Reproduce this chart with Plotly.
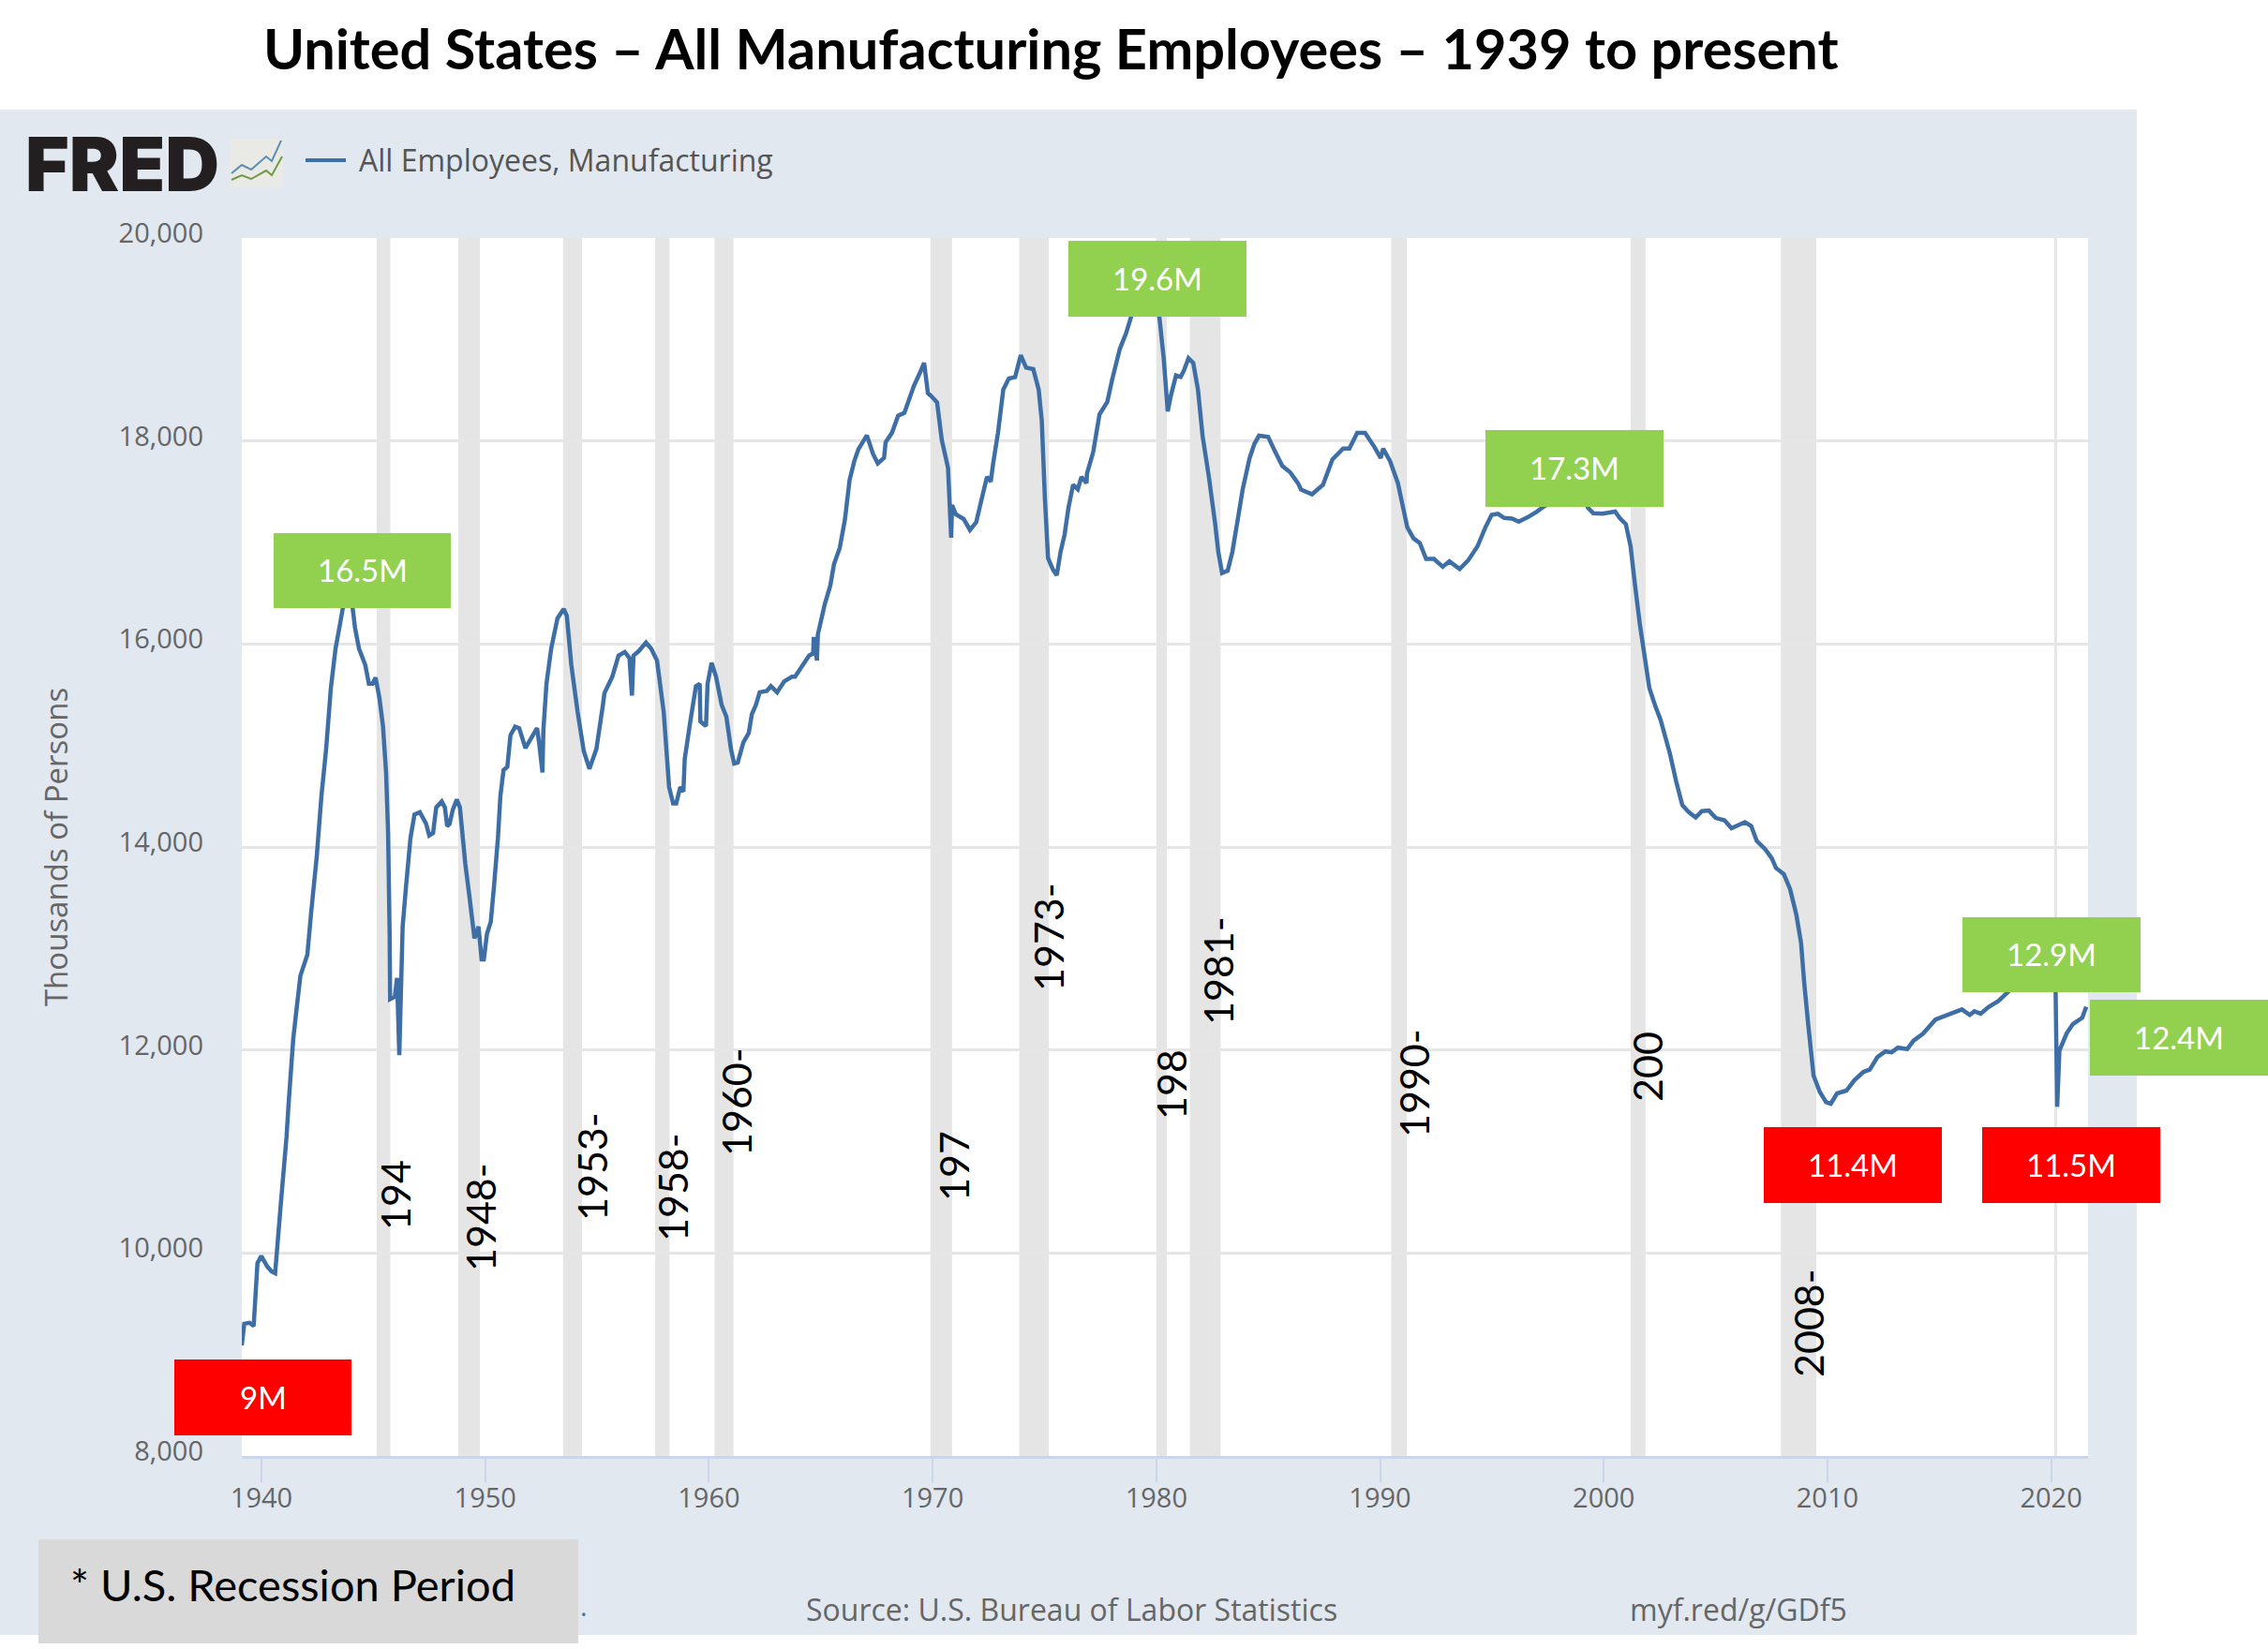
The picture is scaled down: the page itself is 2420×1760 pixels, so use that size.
import plotly.graph_objects as go

TITLE = "United States \u2013 All Manufacturing Employees \u2013 1939 to present"
SERIES = "All Employees, Manufacturing"

years = [
 1939.12,1939.23,1939.47,1939.65,1939.82,1939.99,1940.27,1940.45,1940.61,1940.87,1941.12,1941.21,1941.42,1941.56,1941.74,
 1942.05,1942.22,1942.47,1942.68,1942.89,1943.10,1943.31,1943.52,1943.63,1943.75,1943.90,1944.00,1944.08,1944.18,1944.36,
 1944.64,1944.80,1944.96,1945.10,1945.27,1945.43,1945.57,1945.66,1945.73,1945.75,1945.96,1946.06,1946.16,1946.31,1946.45,
 1946.66,1946.84,1947.08,1947.36,1947.50,1947.67,1947.81,1948.06,1948.20,1948.30,1948.41,1948.55,1948.73,1948.87,1949.11,
 1949.32,1949.52,1949.70,1949.84,1949.94,1950.08,1950.25,1950.40,1950.57,1950.68,1950.82,1950.99,1951.13,1951.34,1951.52,
 1951.80,1952.11,1952.32,1952.42,1952.56,1952.60,1952.74,1952.95,1953.23,1953.51,1953.65,1953.85,1954.13,1954.41,1954.66,
 1954.97,1955.25,1955.33,1955.68,1955.96,1956.24,1956.45,1956.56,1956.63,1956.87,1957.19,1957.42,1957.68,1957.98,1958.22,
 1958.40,1958.54,1958.72,1958.86,1958.92,1959.17,1959.42,1959.59,1959.62,1959.87,1959.94,1960.12,1960.32,1960.57,1960.78,
 1960.99,1961.13,1961.29,1961.54,1961.78,1961.92,1962.10,1962.27,1962.59,1962.77,1963.05,1963.36,1963.71,1963.85,1964.13,
 1964.48,1964.66,1964.69,1964.83,1964.87,1965.18,1965.43,1965.59,1965.85,1966.08,1966.29,1966.50,1966.68,1967.06,1967.34,
 1967.55,1967.83,1967.90,1968.18,1968.46,1968.74,1969.16,1969.45,1969.62,1969.79,1969.95,1970.20,1970.41,1970.69,1970.83,
 1970.87,1971.04,1971.39,1971.67,1971.95,1972.23,1972.43,1972.60,1972.71,1972.92,1973.16,1973.41,1973.69,1973.94,1974.18,
 1974.50,1974.74,1974.88,1975.02,1975.16,1975.37,1975.55,1975.72,1975.90,1976.07,1976.28,1976.49,1976.65,1976.88,1976.90,
 1977.18,1977.46,1977.81,1978.02,1978.37,1978.65,1978.86,1979.20,1979.50,1979.80,1980.14,1980.33,1980.51,1980.65,1980.88,
 1981.09,1981.23,1981.44,1981.65,1981.86,1982.07,1982.35,1982.63,1982.77,1982.94,1983.19,1983.40,1983.61,1983.86,1984.17,
 1984.38,1984.59,1985.00,1985.28,1985.63,1985.98,1986.33,1986.47,1986.96,1987.45,1987.87,1988.35,1988.63,1988.98,1989.33,
 1989.75,1990.03,1990.14,1990.45,1990.80,1991.01,1991.22,1991.50,1991.78,1992.06,1992.41,1992.80,1993.10,1993.56,1993.94,
 1994.36,1994.71,1994.99,1995.27,1995.55,1995.90,1996.20,1996.60,1997.01,1997.29,1997.70,1998.20,1998.60,1999.00,1999.32,
 1999.53,1999.95,2000.51,2000.71,2000.99,2001.20,2001.41,2001.62,2001.83,2002.04,2002.32,2002.54,2002.96,2003.24,2003.51,
 2003.79,2004.11,2004.39,2004.70,2005.01,2005.40,2005.71,2006.31,2006.59,2006.84,2007.22,2007.52,2007.70,2008.05,2008.33,
 2008.61,2008.82,2008.96,2009.14,2009.38,2009.66,2009.94,2010.15,2010.43,2010.85,2011.20,2011.61,2011.89,2012.24,2012.59,
 2012.87,2013.15,2013.57,2013.85,2014.27,2014.83,2015.46,2016.01,2016.36,2016.57,2016.85,2017.20,2017.64,2018.10,2018.60,
 2019.20,2019.90,2020.10,2020.20,2020.27,2020.37,2020.69,2020.97,2021.18,2021.39,2021.57,
]
employees = [
 9090,9303,9312,9280,9901,9970,9864,9818,9800,10499,11144,11466,12110,12387,12732,
 12939,13353,13906,14504,14964,15563,15954,16207,16345,16450,16500,16430,16345,16161,15954,
 15793,15609,15609,15669,15471,15194,14734,14136,13123,12502,12525,12709,11950,13215,13583,
 14090,14320,14343,14228,14113,14136,14389,14449,14389,14205,14228,14366,14467,14389,13837,
 13468,13100,13215,12893,12893,13146,13261,13629,14090,14504,14757,14790,15102,15185,15171,
 14974,15093,15171,15010,14734,15148,15609,15954,16253,16345,16276,15793,15333,14941,14771,
 14964,15379,15515,15677,15885,15921,15861,15492,15885,15931,16014,15954,15838,15330,14591,
 14429,14429,14591,14545,14868,15238,15584,15607,15238,15191,15607,15815,15677,15399,15284,
 14960,14822,14831,15030,15122,15307,15399,15524,15538,15584,15524,15630,15677,15677,15769,
 15885,15908,16069,15838,16092,16393,16578,16785,16947,17224,17617,17802,17917,18056,17871,
 17779,17834,17987,18079,18250,18278,18541,18680,18770,18472,18440,18380,18010,17733,17046,
 17369,17277,17231,17123,17200,17462,17646,17600,17785,18077,18508,18615,18631,18846,18723,
 18708,18508,18200,17431,16846,16738,16677,16908,17077,17338,17569,17523,17646,17585,17677,
 17892,18262,18385,18600,18908,19062,19215,19450,19550,19450,19215,18815,18292,18446,18646,
 18631,18692,18815,18769,18508,18046,17646,17185,16908,16700,16723,16908,17185,17523,17831,
 17969,18052,18040,17908,17754,17692,17585,17522,17475,17568,17817,17925,17925,18081,18081,
 17941,17832,17925,17801,17584,17366,17149,17040,16994,16838,16838,16761,16814,16739,16823,
 16963,17149,17273,17283,17242,17236,17205,17248,17304,17350,17400,17560,17520,17450,17335,
 17289,17283,17304,17242,17180,16963,16559,16186,15875,15565,15379,15254,14919,14644,14414,
 14345,14290,14354,14359,14285,14262,14184,14244,14207,14060,13977,13885,13793,13733,13586,
 13333,13057,12666,12253,11747,11586,11485,11471,11572,11600,11701,11784,11807,11931,11986,
 11977,12023,12009,12092,12161,12299,12354,12400,12345,12381,12358,12423,12483,12578,12750,
 12850,12830,12800,12578,11440,11994,12163,12255,12286,12317,12425,
]

recession_start = [1945.15,1948.80,1953.48,1957.60,1960.25,1969.90,1973.87,1980.00,1981.50,1990.50,2001.20,2007.92,2020.14]
recession_end   = [1945.76,1949.76,1954.33,1958.24,1961.10,1970.87,1975.20,1980.47,1982.87,1991.20,2001.87,2009.50,2020.26]

x_ticks = [1940,1950,1960,1970,1980,1990,2000,2010,2020]
y_ticks = [8000,10000,12000,14000,16000,18000,20000]

green_labels = ["16.5M","19.6M","17.3M","12.9M","12.4M"]
red_labels   = ["9M","11.4M","11.5M"]
period_labels = ["194","1948-","1953-","1958-","1960-","197","1973-","198","1981-","1990-","200","2008-"]

W, H = 2420, 1760
L, R, T, B = 258, 2228, 254, 1554
def px(x): return (x - L) / (R - L)
def py(y): return (B - y) / (B - T)

PANEL = "#e1e8f0"
GREY = "#666666"
LINE = "#3d6ea6"
BAND = "#e5e5e5"
GREEN = "#92d050"
RED = "#ff0000"

shapes = [
    dict(type="rect", xref="paper", yref="paper", x0=px(0), x1=px(2280), y0=py(1745), y1=py(117),
         fillcolor=PANEL, line_width=0, layer="below"),
    dict(type="rect", xref="paper", yref="paper", x0=0, x1=1, y0=0, y1=1,
         fillcolor="white", line_width=0, layer="below"),
]
for s, e in zip(recession_start, recession_end):
    shapes.append(dict(type="rect", xref="x", yref="paper", x0=s, x1=e, y0=0, y1=1,
                       fillcolor=BAND, line_width=0, layer="between"))

def path(pts):
    return "M " + " L ".join(f"{px(a):.5f},{py(b):.5f}" for a, b in pts)
shapes += [
    dict(type="rect", xref="paper", yref="paper", x0=px(245), x1=px(302), y0=py(200), y1=py(148),
         fillcolor="#e9e9e6", line_width=0, layer="above"),
    dict(type="path", xref="paper", yref="paper",
         path=path([(247,185),(258,176),(268,181),(284,167),(290,172),(300,150)]),
         line=dict(color="#5b8fb0", width=2), layer="above"),
    dict(type="path", xref="paper", yref="paper",
         path=path([(247,192),(258,187),(268,191),(284,182),(290,187),(301,167)]),
         line=dict(color="#6f9a45", width=2), layer="above"),
    dict(type="line", xref="paper", yref="paper", x0=px(326), x1=px(369), y0=py(171), y1=py(171),
         line=dict(color=LINE, width=4), layer="above"),
    dict(type="rect", xref="paper", yref="paper", x0=px(41), x1=px(617), y0=py(1754), y1=py(1643),
         fillcolor="#d9d9d9", line_width=0, layer="above"),
]

annotations = []
def text(s, x, y, size, color, font="Open Sans", anchor="center", angle=0, bold=False, weight=None):
    f = dict(family=font, size=size, color=color)
    if weight:
        f["weight"] = weight
    annotations.append(dict(text=f"<b>{s}</b>" if bold else s, xref="paper", yref="paper",
                            x=px(x), y=py(y), xanchor=anchor, yanchor="middle", showarrow=False,
                            textangle=angle, font=f))

def box(s, x0, x1, y0, y1, fill):
    shapes.append(dict(type="rect", xref="paper", yref="paper", x0=px(x0), x1=px(x1), y0=py(y1), y1=py(y0),
                       fillcolor=fill, line_width=0, layer="above"))
    text(s, (x0 + x1) / 2, (y0 + y1) / 2 - 1, 33, "white", font="Lato")

green_boxes = [(292,481,569,649),(1140,1330,257,338),(1585,1775,459,541),(2094,2284,979,1059),(2230,2420,1067,1148)]
red_boxes = [(186,375,1451,1532),(1882,2072,1203,1284),(2115,2305,1203,1284)]
for s, b in zip(green_labels, green_boxes): box(s, *b, GREEN)
for s, b in zip(red_labels, red_boxes): box(s, *b, RED)

period_pos = [(421,1276),(512,1299),(631,1245),(717,1267),(785,1176),(1017,1245),
              (1118,1000),(1249,1158),(1299,1036),(1508,1156),(1757,1139),(1929,1412)]
for s, (x, y) in zip(period_labels, period_pos):
    text(s, x, y, 43, "black", font="Lato", angle=-90)

text(TITLE, 1121, 51, 59.5, "black", font="Lato", bold=True)
text("FRED", 130, 174, 80, "#231f20", font="Inter", weight=900)
text(SERIES, 381, 171, 32, "#555555", anchor="left")
text("Source: U.S. Bureau of Labor Statistics", 858, 1717, 32, GREY, anchor="left")
text("myf.red/g/GDf5", 1737, 1717, 32, GREY, anchor="left")
text(".", 617, 1713, 29, "#4572a7", anchor="left")
text("* U.S. Recession Period", 73, 1691, 47, "black", font="Lato", anchor="left")

fig = go.Figure(go.Scatter(x=years, y=employees, mode="lines", name=SERIES,
                           line=dict(color=LINE, width=4.5, simplify=False), hoverinfo="skip"))
fig.update_layout(
    width=W, height=H, autosize=False,
    margin=dict(l=L, r=W - R, t=T, b=H - B, pad=0),
    paper_bgcolor="white", plot_bgcolor="rgba(0,0,0,0)",
    showlegend=False, shapes=shapes, annotations=annotations,
    xaxis=dict(range=[1939.12, 2021.65], tickvals=x_ticks, ticktext=[str(v) for v in x_ticks],
               showgrid=False, zeroline=False, showline=True, linecolor="#ccd6eb", linewidth=3,
               ticks="outside", ticklen=25, tickwidth=1.5, tickcolor="#ccd6eb",
               tickfont=dict(family="Open Sans", size=29, color=GREY), ticklabelstandoff=-8),
    yaxis=dict(range=[8000, 20000], tickvals=y_ticks, ticktext=[f"{v:,}" for v in y_ticks],
               showgrid=True, gridcolor="#e6e6e6", gridwidth=2.5, zeroline=False, showline=False,
               ticks="", tickfont=dict(family="Open Sans", size=29, color=GREY),
               ticklabelstandoff=40, ticklabelshift=-5,
               title=dict(text="Thousands of Persons", standoff=44,
                          font=dict(family="Open Sans", size=33, color=GREY))),
)
fig.write_html("out.html", config=dict(displayModeBar=False),
               post_script="document.body.style.margin='0';")
